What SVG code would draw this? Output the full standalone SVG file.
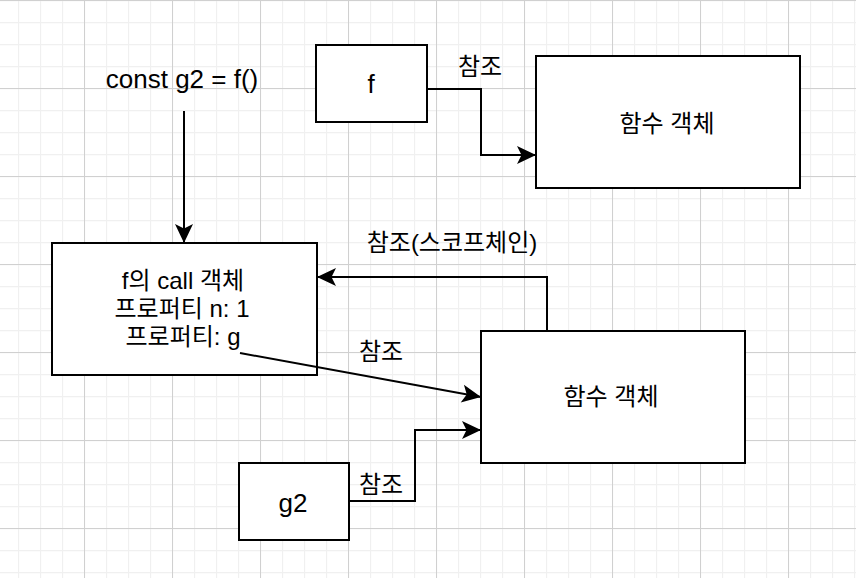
<svg xmlns="http://www.w3.org/2000/svg" width="856" height="578" viewBox="0 0 856 578">
  <defs>
    <pattern id="minor" patternUnits="userSpaceOnUse" x="18" y="0" width="22" height="22">
      <path d="M0.5,0 V22 M0,0.5 H22" stroke="#f0f0f0" stroke-width="1.3" fill="none"/>
    </pattern>
    <pattern id="major" patternUnits="userSpaceOnUse" x="84" y="0" width="88" height="88">
      <path d="M0.5,0 V88 M0,0.5 H88" stroke="#d0d0d0" stroke-width="1" fill="none"/>
    </pattern>
    <marker id="arrow" markerUnits="userSpaceOnUse" viewBox="-20 -10 21 20" refX="0" refY="0" markerWidth="21" markerHeight="20" orient="auto">
      <path d="M0,0 L-19,-9 L-14.5,0 L-19,9 Z" fill="#000"/>
    </marker>
    <style>
      .box { fill: #fff; stroke: #000; stroke-width: 2; }
      .edge { fill: none; stroke: #000; stroke-width: 2; marker-end: url(#arrow); }
      .t { font-family: "Liberation Sans", "Noto Sans CJK KR", sans-serif; font-size: 24px; fill: #000; text-anchor: middle; }
      .lt { font-size: 26px; }
    </style>
  </defs>

  <rect width="856" height="578" fill="#fff"/>
  <rect width="856" height="578" fill="url(#minor)"/>
  <rect width="856" height="578" fill="url(#major)"/>

  <g id="const-label">
    <text class="t lt" x="182" y="88">const g2 = f()</text>
  </g>

  <g id="node-f">
    <rect class="box" x="316" y="45" width="111" height="77"/>
    <text class="t lt" x="371" y="93">f</text>
  </g>

  <g id="node-func-top">
    <rect class="box" x="536" y="56" width="264" height="132"/>
    <text class="t" x="667" y="132">함수 객체</text>
  </g>

  <g id="node-call">
    <rect class="box" x="52" y="243" width="265" height="132"/>
    <text class="t" x="183" y="289">f의 call 객체</text>
    <text class="t" x="182" y="317">프로퍼티 n: 1</text>
    <text class="t" x="183" y="345">프로퍼티: g</text>
  </g>

  <g id="node-func-bottom">
    <rect class="box" x="481" y="331" width="264" height="132"/>
    <text class="t" x="611" y="405">함수 객체</text>
  </g>

  <g id="node-g2">
    <rect class="box" x="239" y="463" width="110" height="77"/>
    <text class="t lt" x="293" y="512">g2</text>
  </g>

  <g id="connectors">
    <path class="edge" d="M184,111 L184,243"/>
    <path class="edge" d="M427,89 L481,89 L481,155 L536,155"/>
    <path class="edge" d="M547,331 L547,277 L317,277"/>
    <path class="edge" d="M240,353 L481,397"/>
    <path class="edge" d="M349,501 L415,501 L415,430 L481,430"/>
    <text class="t" x="480" y="75">참조</text>
    <text class="t" x="452" y="251">참조(스코프체인)</text>
    <text class="t" x="381" y="360">참조</text>
    <text class="t" x="381" y="493">참조</text>
  </g>
</svg>
